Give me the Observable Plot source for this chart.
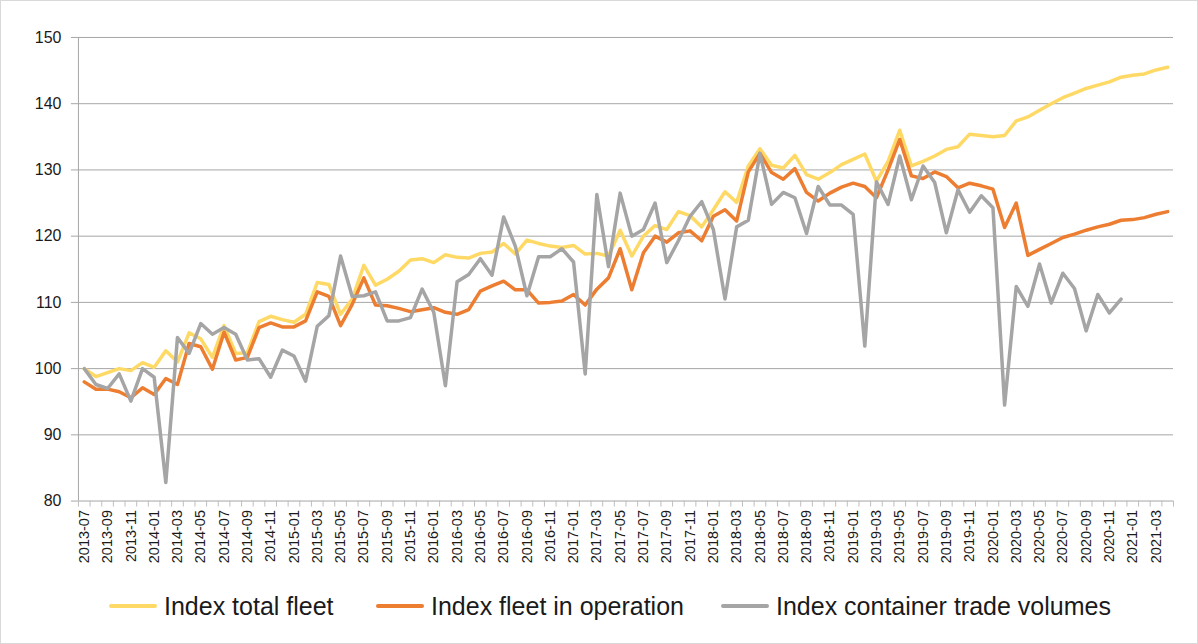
<!DOCTYPE html>
<html>
<head>
<meta charset="utf-8">
<script src="https://cdn.jsdelivr.net/npm/d3@7"></script>
<script src="https://cdn.jsdelivr.net/npm/@observablehq/plot@0.6"></script>
<style>
  html, body { margin: 0; padding: 0; background: #fff; }
  #wrap { position: relative; width: 1198px; height: 644px; box-sizing: border-box; border: 1px solid #d9d9d9; font-family: "Liberation Sans", Arial, sans-serif; overflow: hidden; }
  #chart { position: absolute; left: -1px; top: -1px; }
  .leg { position: absolute; top: 592px; height: 26px; display: flex; align-items: center; font-size: 25px; color: #1a1a1a; white-space: nowrap; }
  .sw { display: inline-block; width: 48px; height: 4px; margin-right: 7px; border-radius: 2px; }
</style>
</head>
<body>
<div id="wrap">
  <div id="chart"></div>
  <div id="legend"></div>
</div>
<script>
const months = ["2013-07","2013-08","2013-09","2013-10","2013-11","2013-12",
"2014-01","2014-02","2014-03","2014-04","2014-05","2014-06","2014-07","2014-08","2014-09","2014-10","2014-11","2014-12",
"2015-01","2015-02","2015-03","2015-04","2015-05","2015-06","2015-07","2015-08","2015-09","2015-10","2015-11","2015-12",
"2016-01","2016-02","2016-03","2016-04","2016-05","2016-06","2016-07","2016-08","2016-09","2016-10","2016-11","2016-12",
"2017-01","2017-02","2017-03","2017-04","2017-05","2017-06","2017-07","2017-08","2017-09","2017-10","2017-11","2017-12",
"2018-01","2018-02","2018-03","2018-04","2018-05","2018-06","2018-07","2018-08","2018-09","2018-10","2018-11","2018-12",
"2019-01","2019-02","2019-03","2019-04","2019-05","2019-06","2019-07","2019-08","2019-09","2019-10","2019-11","2019-12",
"2020-01","2020-02","2020-03","2020-04","2020-05","2020-06","2020-07","2020-08","2020-09","2020-10","2020-11","2020-12",
"2021-01","2021-02","2021-03","2021-04"];

const totalFleet = [100.0, 98.8, 99.4, 100.0, 99.7, 100.9,
100.2, 102.7, 101.0, 105.4, 104.5, 101.7, 106.5, 102.3, 102.4, 107.1, 107.9, 107.4,
107.0, 108.2, 113.0, 112.7, 108.2, 110.5, 115.6, 112.6, 113.5, 114.7, 116.4, 116.6,
116.0, 117.2, 116.8, 116.7, 117.4, 117.6, 118.9, 117.3, 119.4, 118.9, 118.5, 118.3,
118.6, 117.3, 117.4, 117.0, 120.9, 117.0, 120.0, 121.6, 121.0, 123.7, 123.1, 121.4,
124.0, 126.7, 125.1, 130.6, 133.2, 130.7, 130.3, 132.2, 129.3, 128.6, 129.6, 130.8,
131.6, 132.4, 128.3, 131.3, 136.0, 130.6, 131.3, 132.1, 133.1, 133.5, 135.4, 135.2,
135.0, 135.2, 137.4, 138.0, 139.0, 140.0, 140.9, 141.6, 142.3, 142.8, 143.3, 144.0,
144.3, 144.5, 145.1, 145.5];

const fleetInOperation = [98.0, 96.9, 96.9, 96.5, 95.6, 97.1,
96.1, 98.5, 97.6, 103.8, 103.3, 99.9, 105.5, 101.3, 101.7, 106.2, 106.9, 106.3,
106.3, 107.2, 111.6, 110.9, 106.5, 109.7, 113.7, 109.6, 109.5, 109.1, 108.6, 108.9,
109.2, 108.5, 108.2, 108.9, 111.7, 112.5, 113.2, 111.9, 111.9, 109.9, 110.0, 110.2,
111.2, 109.6, 112.0, 113.7, 118.1, 111.9, 117.5, 120.0, 119.1, 120.5, 120.8, 119.3,
123.0, 124.0, 122.3, 129.7, 132.5, 129.6, 128.6, 130.2, 126.6, 125.3, 126.5, 127.4,
128.0, 127.5, 125.8, 130.0, 134.6, 129.1, 128.7, 129.7, 129.0, 127.3, 128.0, 127.6,
127.1, 121.3, 125.0, 117.1, 118.0, 118.9, 119.8, 120.3, 120.9, 121.4, 121.8, 122.4,
122.5, 122.8, 123.3, 123.7];

const tradeVolumes = [100.0, 97.6, 97.0, 99.2, 95.1, 100.0,
98.7, 82.8, 104.7, 102.3, 106.8, 105.2, 106.2, 105.2, 101.3, 101.5, 98.7, 102.8,
101.9, 98.1, 106.4, 108.0, 117.0, 110.9, 111.0, 111.6, 107.2, 107.2, 107.7, 112.0,
108.5, 97.4, 113.1, 114.2, 116.6, 114.1, 122.9, 118.5, 111.0, 116.9, 116.9, 118.1,
116.1, 99.2, 126.3, 115.4, 126.5, 120.0, 121.0, 125.0, 116.0, 119.3, 123.0, 125.2,
121.0, 110.5, 121.4, 122.4, 132.5, 124.8, 126.6, 125.8, 120.4, 127.5, 124.7, 124.7,
123.3, 103.4, 128.2, 124.8, 132.1, 125.5, 130.6, 128.1, 120.5, 127.0, 123.6, 126.1,
124.3, 94.5, 112.4, 109.4, 115.8, 109.9, 114.4, 112.1, 105.7, 111.2, 108.4, 110.5];

const yTicks = [80, 90, 100, 110, 120, 130, 140, 150];
const labelEvery = 2;

const seriesNames = ["Index total fleet", "Index fleet in operation", "Index container trade volumes"];
const seriesColors = ["#FFD966", "#ED7D31", "#A5A5A5"];
const seriesValues = [totalFleet, fleetInOperation, tradeVolumes];

const rows = seriesValues.map(vals => vals.map((v, i) => ({i, v})));
const labelTicks = months.map((m, i) => i).filter(i => i % labelEvery === 0);
const boundaryTicks = months.map((m, i) => i - 0.5).concat([months.length - 0.5]);

const chart = Plot.plot({
  width: 1198,
  height: 590,
  marginLeft: 78,
  marginRight: 24,
  marginTop: 37,
  marginBottom: 89,
  style: {fontFamily: "'Liberation Sans', Arial, sans-serif", background: "transparent", color: "#1a1a1a"},
  x: {type: "linear", domain: [-0.5, months.length - 0.5]},
  y: {domain: [80, 150]},
  marks: [
    Plot.gridY(yTicks, {stroke: "#a6a6a6", strokeOpacity: 1, strokeWidth: 1}),
    Plot.axisY({ticks: yTicks, tickSize: 7, tickPadding: 10, fontSize: 16, stroke: "#a6a6a6", fill: "#1a1a1a", label: null}),
    Plot.ruleX([-0.5], {stroke: "#a6a6a6"}),
    Plot.ruleY([80], {stroke: "#d0d0d0"}),
    Plot.axisX({ticks: boundaryTicks, tickSize: 6, tickFormat: () => "", stroke: "#bfbfbf", label: null}),
    Plot.axisX({ticks: labelTicks, tickSize: 0, tickPadding: 9, tickRotate: -90, fontSize: 14.5, tickFormat: i => months[i], fill: "#1a1a1a", label: null}),
    ...rows.map((r, k) => Plot.line(r, {x: "i", y: "v", stroke: seriesColors[k], strokeWidth: 3.5, strokeLinejoin: "round", strokeLinecap: "round"}))
  ]
});
document.getElementById("chart").appendChild(chart);

const legendLeft = [108, 375, 720];
const legend = document.getElementById("legend");
seriesNames.forEach((name, k) => {
  const d = document.createElement("div");
  d.className = "leg";
  d.style.left = legendLeft[k] + "px";
  d.innerHTML = `<span class="sw" style="background:${seriesColors[k]}"></span><span>${name}</span>`;
  legend.appendChild(d);
});
</script>
</body>
</html>
